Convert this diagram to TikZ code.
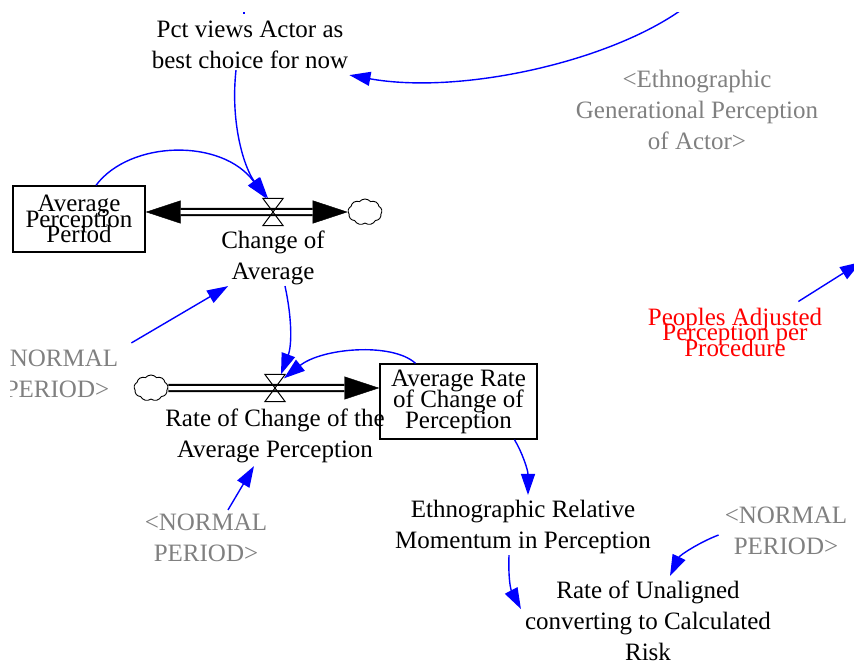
\documentclass[tikz,border=0pt]{standalone}
\usepackage{fontspec}
\setmainfont{Liberation Serif}
\usepackage{xcolor}
\usepackage{tikz}
\usetikzlibrary{positioning, arrows.meta, shapes.symbols}
\definecolor{shadowgray}{RGB}{128,128,128}
\definecolor{linkblue}{RGB}{0,0,255}
\newcommand{\squeezelines}{\lineskiplimit -30pt\relax}

\begin{document}
\begin{tikzpicture}[x=1pt, y=-1pt,
  every node/.style={inner sep=1pt, align=center,
                     font=\fontsize{25}{31}\selectfont},
  shadow/.style={text=shadowgray},
  tight/.style={font=\fontsize{25}{15.5}\selectfont\squeezelines},
  stock/.style={draw, line width=1.4pt, inner sep=0pt},
  valvebox/.style={minimum width=20pt, minimum height=27pt, inner sep=0pt},
  valve/.style={line width=1pt},
  source/.style={cloud, draw, cloud puffs=9, cloud puff arc=100,
                 minimum width=34pt, minimum height=26pt, inner sep=0pt,
                 line width=0.9pt},
  pipe/.style={double, double distance=4pt, line width=2.2pt},
  flowtip/.style={-{Triangle[length=35pt, width=23pt]}, line width=0.4pt},
  link/.style={-{Triangle[length=21pt, width=14pt]}, linkblue, line width=1.4pt}]
\useasboundingbox (0,0) rectangle (854,662);
\clip (10,12) rectangle (854,662);

% stocks, valves and clouds
\node[stock, tight, minimum width=132pt, minimum height=66pt] (app) at (79,219)
  {Average\\Perception\\Period};
\node[valvebox] (v1) at (273,212) {};
\node[source] (cl1) at (365,212) {};
\node[below=4pt of v1] (coa) {Change of\\Average};

\node[source] (cl2) at (151,388) {};
\node[valvebox] (v2) at (275,388) {};
\node[stock, minimum width=157pt, minimum height=75pt,
      font=\fontsize{25}{21}\selectfont\squeezelines] (aroc) at (458.5,401.5)
  {Average Rate\\of Change of\\Perception};
\node[below=6pt of v2] (rcap) {Rate of Change of the\\Average Perception};

% auxiliaries
\node (pct) at (250,45) {Pct views Actor as\\best choice for now};
\node[shadow] (ethgen) at (697,110)
  {<Ethnographic\\Generational Perception\\of Actor>};
\node[shadow] (np1) at (57,374) {<NORMAL\\PERIOD>};
\node[shadow] (np2) at (206,538) {<NORMAL\\PERIOD>};
\node[shadow] (np3) at (786,531) {<NORMAL\\PERIOD>};
\node (erm) at (523,527) {Ethnographic Relative\\Momentum in Perception};
\node (ruc) at (648,621) {Rate of Unaligned\\converting to Calculated\\Risk};
\node[tight, text=red] (padj) at (735,332)
  {Peoples Adjusted\\Perception per\\Procedure};

% flows
\draw[flowtip] (v1) -- (v1 -| app.east);
\draw[flowtip] (v1) -- (cl1);
\draw[pipe, shorten <=35pt, shorten >=35pt] (v1 -| app.east) -- (cl1);
\draw[flowtip] (v2) -- (v2 -| aroc.west);
\draw[pipe, shorten >=35pt] (cl2) -- (v2 -| aroc.west);
\draw[valve] (v1.north west) -- (v1.north east) -- (v1.south west)
  -- (v1.south east) -- cycle;
\draw[valve] (v2.north west) -- (v2.north east) -- (v2.south west)
  -- (v2.south east) -- cycle;

% links
\coordinate (topin) at (244,0);
\coordinate (topend) at (244,14);
\draw[linkblue, line width=1.4pt] (topin) -- (topend);
\coordinate (trin) at (684,8);
\draw[link] (trin) .. controls (610,62) and (460,95) .. ([yshift=-5pt]pct.south east);
\draw[link] ([xshift=-14pt]pct.south) .. controls (230,125) and (245,170)
  .. ([xshift=-5pt]v1.north);
\draw[link] ([xshift=17pt]app.north) .. controls (130,140) and (222,138)
  .. ([xshift=-7pt]v1.north);
\draw[link] ([shift={(12pt,6pt)}]np1.north east) -- ([xshift=8pt]coa.south west);
\draw[link] ([xshift=12pt]coa.south) .. controls (292,318) and (292,345)
  .. ([xshift=6pt]v2.north);
\draw[link] ([xshift=-43pt]aroc.north) .. controls (392,342) and (322,348)
  .. ([xshift=9pt,yshift=-4pt]v2.north);
\draw[link] ([xshift=56pt]aroc.south) .. controls (522,452) and (528,470)
  .. ([xshift=5pt,yshift=4pt]erm.north);
\draw[link] ([xshift=-14pt]erm.south) .. controls (508,585) and (512,592)
  .. ([shift={(-3pt,12pt)}]ruc.west);
\draw[link] ([xshift=-5pt,yshift=-4pt]np3.west) .. controls (700,542) and (680,555)
  .. ([xshift=22pt,yshift=4pt]ruc.north);
\coordinate (offr) at (861,262);
\draw[link] ([xshift=-25pt,yshift=5pt]padj.north east) -- (offr);
\draw[link] ([xshift=22pt,yshift=3pt]np2.north) -- ([xshift=-21pt,yshift=-2pt]rcap.south);
\end{tikzpicture}
\end{document}
